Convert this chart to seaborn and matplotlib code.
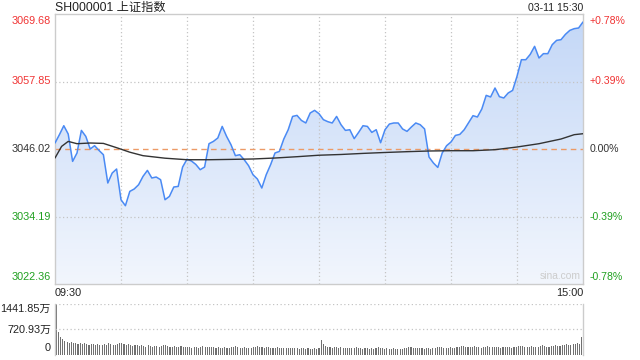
import numpy as np
import pandas as pd
import seaborn as sns
import matplotlib.pyplot as plt
from matplotlib.colors import LinearSegmentedColormap

# Shanghai composite, intraday 03-11
prev_close = 3046.02
y_ticks = [3069.68, 3057.85, 3046.02, 3034.19, 3022.36]
pct_labels = ["+0.78%", "+0.39%", "0.00%", "-0.39%", "-0.78%"]
vol_ticks = [1441.85, 720.93, 0]
vol_labels = ["1441.85万", "720.93万", "0"]

# price sampled every 2 minutes of trading (0 = 09:30, 240 = 15:00)
price_minutes = list(range(0, 241, 2))
price = [
    3047.07, 3048.53, 3050.10, 3048.65, 3043.85, 3045.32, 3049.28, 3048.23, 3046.02, 3046.60,
    3045.77, 3045.02, 3040.06, 3041.81, 3042.51, 3037.13, 3036.08, 3038.59, 3039.01, 3039.76,
    3041.22, 3042.27, 3040.94, 3041.11, 3040.64, 3037.13, 3037.71, 3039.36, 3039.46, 3042.86,
    3044.23, 3043.92, 3043.32, 3042.39, 3042.86, 3046.95, 3047.35, 3047.95, 3049.98, 3048.23,
    3046.77, 3044.85, 3045.02, 3044.14, 3043.09, 3041.51, 3040.76, 3039.18, 3041.51, 3043.27,
    3045.32, 3045.60, 3047.77, 3049.40, 3051.73, 3051.91, 3051.03, 3050.58, 3052.33, 3052.79,
    3052.21, 3051.16, 3050.81, 3050.58, 3051.73, 3050.28, 3049.28, 3049.40, 3047.83, 3048.93,
    3050.10, 3049.98, 3048.93, 3049.40, 3047.12, 3049.40, 3050.40, 3050.58, 3050.58, 3049.53,
    3049.11, 3049.88, 3050.58, 3050.28, 3049.53, 3044.62, 3043.57, 3042.79, 3045.32, 3046.60,
    3047.25, 3048.40, 3048.58, 3049.40, 3050.63, 3051.86, 3051.63, 3053.03, 3055.42, 3055.14,
    3056.71, 3055.19, 3054.96, 3055.84, 3056.29, 3058.75, 3061.67, 3061.67, 3062.60, 3064.01,
    3061.97, 3062.73, 3062.73, 3064.30, 3065.06, 3065.18, 3066.11, 3066.81, 3067.11, 3067.23,
    3068.28,
]

# average price line
avg_minutes = [0, 3, 6, 10, 16, 22, 28, 34, 40, 50, 60, 70, 80, 90, 100, 110, 120, 130,
               140, 150, 160, 170, 180, 190, 200, 210, 220, 230, 236, 240]
avg_price = [3044.44, 3046.48, 3047.35, 3046.95, 3047.07, 3047.00, 3046.25, 3045.46, 3044.85,
             3044.41, 3044.14, 3044.14, 3044.20, 3044.27, 3044.44, 3044.67, 3044.93, 3045.06,
             3045.25, 3045.41, 3045.55, 3045.67, 3045.72, 3045.72, 3045.90, 3046.37, 3046.95,
             3047.77, 3048.53, 3048.70]

# volume per minute, in 万
volume = [
    1441.85, 660, 510, 445, 400, 380, 350, 365, 330, 345,
    320, 335, 300, 340, 310, 290, 325, 300, 280, 310,
    295, 270, 305, 285, 330, 300, 275, 290, 320, 350,
    340, 300, 285, 310, 270, 260, 290, 275, 250, 280,
    265, 240, 270, 255, 235, 260, 245, 230, 250, 275,
    290, 260, 240, 225, 250, 235, 220, 245, 230, 215,
    240, 225, 210, 235, 220, 205, 230, 250, 240, 225,
    215, 235, 220, 205, 225, 210, 200, 220, 205, 195,
    215, 230, 245, 225, 210, 200, 220, 205, 195, 210,
    225, 240, 250, 235, 220, 210, 225, 215, 200, 190,
    205, 215, 200, 185, 200, 190, 210, 195, 185, 200,
    190, 180, 195, 185, 175, 190, 180, 170, 185, 175,
    195,
    430, 300, 260, 240, 225, 210, 230, 215, 200, 220,
    205, 195, 210, 200, 190, 205, 215, 200, 190, 180,
    195, 185, 175, 190, 180, 200, 215, 195, 185, 175,
    190, 180, 170, 185, 175, 165, 180, 170, 185, 200,
    215, 225, 210, 195, 185, 200, 190, 180, 195, 185,
    175, 190, 205, 220, 235, 215, 200, 190, 205, 220,
    210, 200, 215, 230, 245, 260, 240, 225, 215, 230,
    245, 235, 220, 210, 225, 240, 255, 240, 225, 215,
    230, 220, 210, 225, 240, 230, 215, 205, 220, 235,
    250, 265, 245, 230, 220, 235, 250, 240, 225, 240,
    255, 270, 255, 240, 230, 245, 260, 280, 265, 250,
    270, 290, 310, 295, 280, 300, 320, 340, 300, 520,
]

df = pd.DataFrame({"minute": price_minutes, "price": price})
vol_df = pd.DataFrame({"minute": range(len(volume)), "volume": volume})

sns.set_theme(style="white")
plt.rcParams['font.family'] = ['Liberation Sans', 'Noto Sans CJK SC']

W, H = 640, 360
fig = plt.figure(figsize=(6.4, 3.6), dpi=100)
fig.patch.set_facecolor("white")


def fx(px):
    return px / W


def fy(py):
    return 1 - py / H


ax = fig.add_axes([fx(55), fy(284), (583 - 55) / W, (284 - 14) / H])
axv = fig.add_axes([fx(55), fy(355), (583 - 55) / W, (355 - 304) / H])

y_lo, y_hi = y_ticks[-1], y_ticks[0]
grid_kw = dict(color="#c4c4c4", linewidth=0.9, linestyle=(0, (1, 2)), zorder=2)

# gradient fill under the price line
poly = ax.fill_between(df["minute"], df["price"], y_lo, color="none", linewidth=0)
grad = np.linspace(0, 1, 256).reshape(-1, 1)
cmap = LinearSegmentedColormap.from_list("fill", ["#f2f6fd", "#c3d7f7"])
im = ax.imshow(grad, cmap=cmap, aspect="auto", origin="lower",
               extent=[0, 240, y_lo, y_hi], zorder=1)
im.set_clip_path(poly.get_paths()[0], transform=ax.transData)

for m in range(30, 240, 30):
    ax.axvline(m, **grid_kw)
for v in [y_ticks[1], y_ticks[3]]:
    ax.axhline(v, **grid_kw)
ax.axhline(prev_close, color="#ec9a66", linewidth=1.0, linestyle=(0, (4, 3)), zorder=2.2)

sns.lineplot(data=df, x="minute", y="price", ax=ax, color="#4a8af4", linewidth=1.1, zorder=3)
sns.lineplot(x=avg_minutes, y=avg_price, ax=ax, color="#333333", linewidth=1.0, zorder=3)

ax.set_xlim(0, 240)
ax.set_ylim(y_lo, y_hi)
ax.set_xticks([])
ax.set_yticks([])
ax.set_xlabel("")
ax.set_ylabel("")
for s in ax.spines.values():
    s.set_color("#cccccc")
    s.set_linewidth(1)

# left and right price labels
label_colors = ["#f03333", "#f03333", "#333333", "#20a020", "#20a020"]
tf = ax.get_yaxis_transform()
for i, (v, pl, c) in enumerate(zip(y_ticks, pct_labels, label_colors)):
    va = "top" if i == 0 else ("bottom" if i == len(y_ticks) - 1 else "center")
    off = -1.5 if i == 0 else (1.5 if i == len(y_ticks) - 1 else 0)
    yy = v + off * (y_hi - y_lo) / 270
    ax.text(-4 / 528, yy, f"{v:.2f}", transform=tf, ha="right", va=va,
            color=c, fontsize=7.8, clip_on=False)
    ax.text(1 + 7 / 528, yy, pl, transform=tf, ha="left", va=va,
            color=c, fontsize=7.6, clip_on=False)

ax.text(0.995, 0.012, "sina.com", transform=ax.transAxes, ha="right", va="bottom",
        color="#cccccc", fontsize=7.4, zorder=4)

# header and time labels
fig.text(fx(55), fy(8), "SH000001 上证指数", ha="left", va="center", fontsize=8.8, color="#222222")
fig.text(fx(583), fy(8), "03-11 15:30", ha="right", va="center", fontsize=7.6, color="#222222")
fig.text(fx(55), fy(293), "09:30", ha="left", va="center", fontsize=7.8, color="#222222")
fig.text(fx(583), fy(293), "15:00", ha="right", va="center", fontsize=7.8, color="#222222")

# volume panel
axv.bar(vol_df["minute"], vol_df["volume"], width=0.5, color="#707070", linewidth=0, zorder=2)
axv.set_xlim(-0.5, 240.5)
axv.set_ylim(0, vol_ticks[0])
axv.axhline(vol_ticks[0], **grid_kw)
axv.axhline(vol_ticks[1], **grid_kw)
axv.set_xticks([])
axv.set_yticks([])
axv.spines["top"].set_visible(False)
axv.spines["bottom"].set_visible(False)
for side in ["left", "right"]:
    axv.spines[side].set_color("#cccccc")
    axv.spines[side].set_linewidth(1)

for py, lab in zip([309, 330, 348], vol_labels):
    fig.text(fx(51), fy(py), lab, ha="right", va="center", fontsize=7.8, color="#222222")

fig.savefig("out.png", dpi=100, facecolor="white")
